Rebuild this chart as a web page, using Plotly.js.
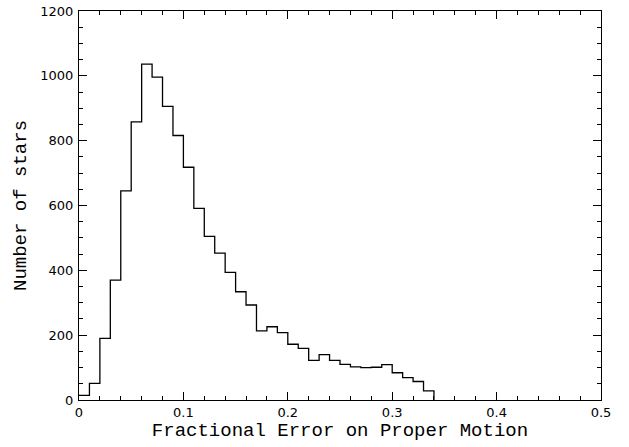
<!DOCTYPE html>
<html>
<head>
<meta charset="utf-8">
<script src="https://cdn.plot.ly/plotly-3.0.1.min.js"></script>
<style>html,body{margin:0;padding:0;background:#fff;}#chart{width:629px;height:447px;}</style>
</head>
<body>
<div id="chart"></div>
<script>
// Left edges of histogram bins (fractional error)
const binLeftEdges = [0.00,0.01,0.02,0.03,0.04,0.05,0.06,0.07,0.08,0.09,
                      0.10,0.11,0.12,0.13,0.14,0.15,0.16,0.17,0.18,0.19,
                      0.20,0.21,0.22,0.23,0.24,0.25,0.26,0.27,0.28,0.29,
                      0.30,0.31,0.32,0.33];
const binRightEnd = 0.34;
// Number of stars per bin
const starCounts = [14,51,190,370,645,858,1036,996,906,816,
                    718,591,505,453,394,334,293,213,226,208,
                    172,159,122,140,122,110,102,100,101,109,
                    84,69,57,28];

const xs = binLeftEdges.concat([binRightEnd]);
const ys = starCounts.concat([0]);

const trace = {
  x: xs, y: ys, type: 'scatter', mode: 'lines',
  line: {shape: 'hv', color: '#000', width: 1.3},
  hoverinfo: 'skip'
};

const tickFont = {family: 'DejaVu Sans', size: 13, color: '#000'};
const titleFont = {family: 'Liberation Mono', size: 19, color: '#000'};

const layout = {
  width: 629, height: 447,
  margin: {l: 79, r: 28, t: 11, b: 47, pad: 0},
  paper_bgcolor: '#fff', plot_bgcolor: '#fff',
  showlegend: false,
  xaxis: {
    range: [0, 0.5],
    tickvals: [0, 0.1, 0.2, 0.3, 0.4, 0.5],
    ticktext: ['0', '0.1', '0.2', '0.3', '0.4', '0.5'],
    ticks: 'inside', ticklen: 8, tickwidth: 1, tickcolor: '#000',
    minor: {dtick: 0.02, tick0: 0, ticks: 'inside', ticklen: 4, tickwidth: 1, tickcolor: '#000', showgrid: false},
    showline: true, linecolor: '#000', linewidth: 1, mirror: 'allticks',
    showgrid: false, zeroline: false,
    tickfont: tickFont,
    title: {text: 'Fractional Error on Proper Motion', font: titleFont, standoff: 2},
    automargin: false
  },
  yaxis: {
    range: [0, 1200], tick0: 0, dtick: 200,
    ticks: 'inside', ticklen: 8, tickwidth: 1, tickcolor: '#000',
    minor: {dtick: 50, tick0: 0, ticks: 'inside', ticklen: 4, tickwidth: 1, tickcolor: '#000', showgrid: false},
    showline: true, linecolor: '#000', linewidth: 1, mirror: 'allticks',
    showgrid: false, zeroline: false,
    tickfont: tickFont,
    ticklabelstandoff: 2,
    title: {text: 'Number of stars', font: titleFont, standoff: 8},
    automargin: false
  }
};

Plotly.newPlot('chart', [trace], layout, {displayModeBar: false, staticPlot: true});
</script>
</body>
</html>
